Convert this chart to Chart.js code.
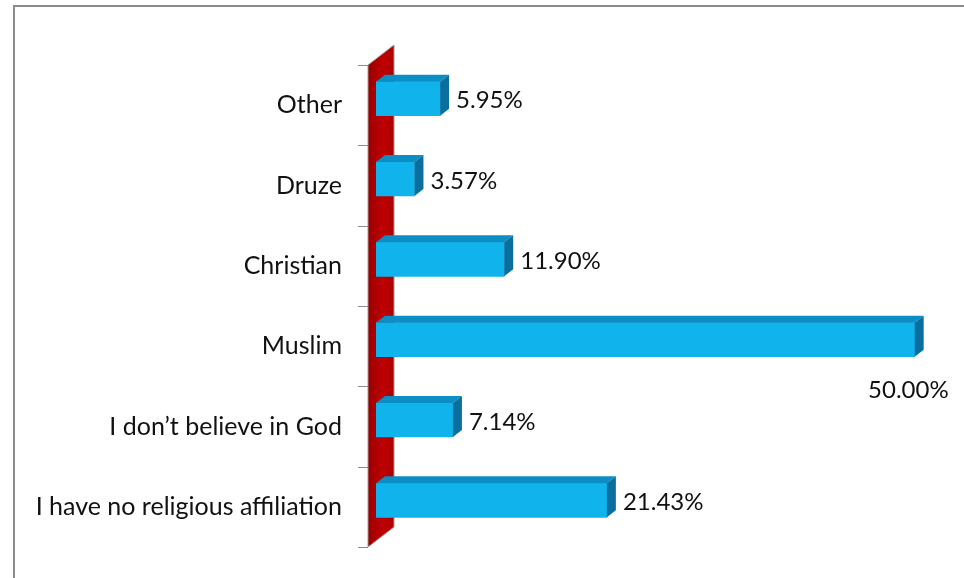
<!DOCTYPE html>
<html>
<head>
<meta charset="utf-8">
<script src="https://cdn.jsdelivr.net/npm/chart.js@4.4.1/dist/chart.umd.min.js"></script>
<style>
  html, body { margin: 0; padding: 0; background: #fff; }
  #wrap { position: relative; width: 964px; height: 578px; overflow: hidden; }
  #frame {
    position: absolute; left: 13px; top: 5px; right: -10px; bottom: -10px;
    border-top: 2px solid #8c8c8c; border-left: 2px solid #8c8c8c;
  }
  canvas { position: absolute; left: 0; top: 0; }
</style>
</head>
<body>
<div id="wrap">
  <div id="frame"></div>
  <canvas id="chart" width="964" height="578"></canvas>
</div>
<script>
  // data
  const categories = [
    "Other",
    "Druze",
    "Christian",
    "Muslim",
    "I don\u2019t believe in God",
    "I have no religious affiliation"
  ];
  const shares = [5.95, 3.57, 11.90, 50.00, 7.14, 21.43];
  const shareLabels = ["5.95%", "3.57%", "11.90%", "50.00%", "7.14%", "21.43%"];

  const FONT = "Lato, 'Open Sans', sans-serif";
  const DX = 9, DY = -7;          // bar depth
  const LABEL_SHIFT = 6.5;         // labels/ticks sit a bit lower than the bars

  // red side wall + tick marks
  const wallPlugin = {
    id: "wall",
    beforeDatasetsDraw(chart) {
      const ctx = chart.ctx, a = chart.chartArea;
      const n = categories.length;
      const band = (a.bottom - a.top) / n;
      const top = a.top + LABEL_SHIFT, bot = a.bottom + LABEL_SHIFT;
      const x0 = a.left - 8, x1 = a.left + 18;
      ctx.save();
      const g = ctx.createLinearGradient(x0, 0, x1, 0);
      g.addColorStop(0, "#9a0000");
      g.addColorStop(0.6, "#c00000");
      g.addColorStop(1, "#a80000");
      ctx.beginPath();
      ctx.moveTo(x0, top);
      ctx.lineTo(x1, top - 20);
      ctx.lineTo(x1, bot - 20);
      ctx.lineTo(x0, bot);
      ctx.closePath();
      ctx.fillStyle = g;
      ctx.fill();
      ctx.strokeStyle = "#9a9a9a";
      ctx.lineWidth = 1;
      ctx.stroke();
      // tick marks on band boundaries
      ctx.strokeStyle = "#8c8c8c";
      ctx.beginPath();
      for (let i = 0; i <= n; i++) {
        const yy = Math.round(top + i * band) + 0.5;
        ctx.moveTo(x0 - 10, yy);
        ctx.lineTo(x0, yy);
      }
      ctx.stroke();
      ctx.restore();
    }
  };

  // top and side faces of the bars, then value labels
  const depthPlugin = {
    id: "depth",
    afterDatasetsDraw(chart) {
      const ctx = chart.ctx;
      const meta = chart.getDatasetMeta(0);
      ctx.save();
      meta.data.forEach((bar, i) => {
        const p = bar.getProps(["x", "y", "base", "height"], true);
        const l = p.base, r = p.x, t = p.y - p.height / 2, b = p.y + p.height / 2;
        // top face
        ctx.beginPath();
        ctx.moveTo(l, t);
        ctx.lineTo(l + DX, t + DY);
        ctx.lineTo(r + DX, t + DY);
        ctx.lineTo(r, t);
        ctx.closePath();
        ctx.fillStyle = "#0c8ec4";
        ctx.fill();
        // side face
        ctx.beginPath();
        ctx.moveTo(r, t);
        ctx.lineTo(r + DX, t + DY);
        ctx.lineTo(r + DX, b + DY);
        ctx.lineTo(r, b);
        ctx.closePath();
        ctx.fillStyle = "#0a6f9f";
        ctx.fill();

        ctx.font = "24px " + FONT;
        ctx.fillStyle = "#111";
        ctx.textBaseline = "middle";
        if (shares[i] >= 40) {
          ctx.textAlign = "right";
          ctx.fillText(shareLabels[i], r + 34, b + 34);
        } else {
          ctx.textAlign = "left";
          ctx.fillText(shareLabels[i], r + DX + 7, p.y + 2);
        }
      });
      ctx.restore();
    }
  };

  new Chart(document.getElementById("chart"), {
    type: "bar",
    data: {
      labels: categories,
      datasets: [{
        data: shares,
        backgroundColor: "#10b3ec",
        borderWidth: 0,
        barThickness: 34
      }]
    },
    options: {
      indexAxis: "y",
      responsive: false,
      animation: false,
      layout: { padding: { top: 58.5, bottom: 37.5, left: 0, right: 17 } },
      plugins: { legend: { display: false }, tooltip: { enabled: false } },
      scales: {
        x: { display: false, min: 0, max: 53 },
        y: {
          afterFit(s) { s.width = 376; },
          border: { display: false },
          grid: { display: false, drawTicks: true, tickLength: 34 },
          ticks: {
            color: "#111",
            font: { family: FONT, size: 25 },
            padding: 0,
            labelOffset: LABEL_SHIFT
          }
        }
      }
    },
    plugins: [wallPlugin, depthPlugin]
  });
</script>
</body>
</html>
